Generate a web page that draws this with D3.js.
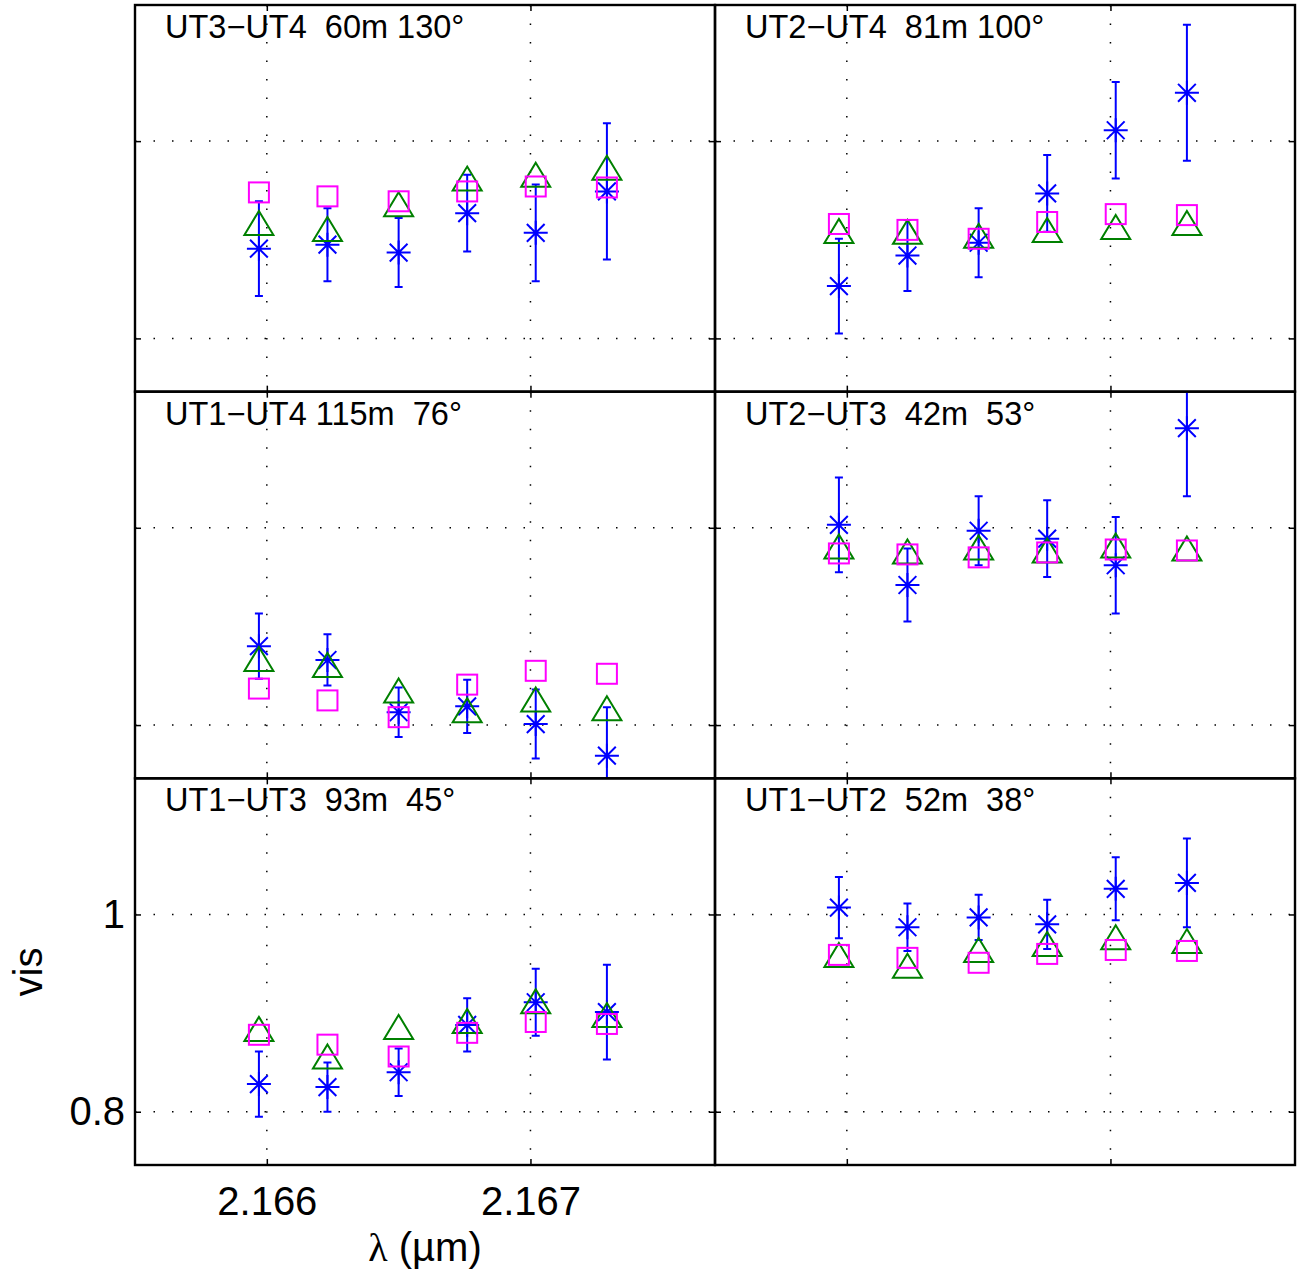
<!DOCTYPE html>
<html>
<head>
<meta charset="utf-8">
<script src="https://cdn.jsdelivr.net/npm/d3@7"></script>
<style>
  body { margin: 0; background: #fff; }
  text { font-family: "Liberation Sans", Arial, Helvetica, sans-serif; }
</style>
</head>
<body>
<svg id="chart" width="1297" height="1279"></svg>
<script>
// ---------------- data ----------------
const wavelengths = [2.16597, 2.16623, 2.16650, 2.16676, 2.16702, 2.16729]; // µm
const panelLabels = [
  "UT3\u2212UT4  60m 130\u00b0",
  "UT2\u2212UT4  81m 100\u00b0",
  "UT1\u2212UT4 115m  76\u00b0",
  "UT2\u2212UT3  42m  53\u00b0",
  "UT1\u2212UT3  93m  45\u00b0",
  "UT1\u2212UT2  52m  38\u00b0"
];
// magenta squares
const squareVis = [
  [0.948, 0.944, 0.939, 0.949, 0.954, 0.953],
  [0.916, 0.910, 0.901, 0.918, 0.926, 0.925],
  [0.837, 0.825, 0.808, 0.841, 0.855, 0.852],
  [0.974, 0.973, 0.970, 0.975, 0.978, 0.977],
  [0.878, 0.868, 0.856, 0.880, 0.891, 0.889],
  [0.959, 0.956, 0.951, 0.960, 0.964, 0.963]
];
// green triangles
const triangleVis = [
  [0.917, 0.911, 0.936, 0.962, 0.966, 0.973],
  [0.909, 0.908, 0.904, 0.910, 0.913, 0.917],
  [0.867, 0.861, 0.835, 0.815, 0.826, 0.817],
  [0.981, 0.976, 0.980, 0.977, 0.982, 0.979],
  [0.884, 0.856, 0.886, 0.892, 0.912, 0.898],
  [0.959, 0.948, 0.964, 0.970, 0.977, 0.973]
];
// blue asterisks (measured) with error bars
const starVis = [
  [0.891, 0.895, 0.887, 0.927, 0.907, 0.949],
  [0.853, 0.884, 0.897, 0.947, 1.011, 1.049],
  [0.880, 0.866, 0.813, 0.819, 0.801, 0.769],
  [1.003, 0.942, 0.997, 0.989, 0.962, 1.101],
  [0.828, 0.825, 0.840, 0.888, 0.911, 0.901],
  [1.007, 0.987, 0.997, 0.990, 1.026, 1.032]
];
const starErr = [
  [0.048, 0.037, 0.035, 0.039, 0.049, 0.069],
  [0.048, 0.036, 0.035, 0.039, 0.049, 0.069],
  [0.033, 0.026, 0.025, 0.027, 0.035, 0.049],
  [0.048, 0.037, 0.035, 0.039, 0.049, 0.069],
  [0.033, 0.025, 0.024, 0.027, 0.034, 0.048],
  [0.031, 0.024, 0.023, 0.025, 0.032, 0.045]
];
const xTickValues = [2.166, 2.167];
const xTickLabels = ["2.166", "2.167"];
const yTickValues = [0.8, 1.0];
const yTickLabels = ["0.8", "1"];
const xDomain = [2.1655, 2.1677];
const yDomain = [0.746, 1.138];

// ---------------- layout ----------------
const svg = d3.select("#chart");
svg.append("rect").attr("width", 1297).attr("height", 1279).attr("fill", "#fff");

const panelLeft = 135, panelTop = 5, panelW = 580, panelH = (1165 - 5) / 3;
const x = d3.scaleLinear().domain(xDomain).range([0, panelW]);
const y = d3.scaleLinear().domain(yDomain).range([panelH, 0]);

const BLUE = "#0000ff", GREEN = "#008000", MAGENTA = "#ff00ff";
const r = 12, d = r * 0.74;
const starPath = `M${-r},0L${r},0M0,${-r}L0,${r}M${-d},${-d}L${d},${d}M${-d},${d}L${d},${-d}`;
const triPath = "M0,-12L14.5,12L-14.5,12Z";

panelLabels.forEach((label, i) => {
  const col = i % 2, row = Math.floor(i / 2);
  const g = svg.append("g")
    .attr("transform", `translate(${panelLeft + col * panelW},${panelTop + row * panelH})`);

  const clipId = "clip" + i;
  g.append("clipPath").attr("id", clipId)
    .append("rect").attr("width", panelW).attr("height", panelH);

  // grid (dotted)
  const grid = g.append("g").attr("stroke", "#000").attr("stroke-width", 1.5)
    .attr("stroke-dasharray", "1.5 17");
  grid.selectAll("line.gx").data(xTickValues).join("line").attr("class", "gx")
    .attr("x1", v => x(v)).attr("x2", v => x(v))
    .attr("y1", 0).attr("y2", panelH);
  grid.selectAll("line.gy").data(yTickValues).join("line").attr("class", "gy")
    .attr("x1", 0).attr("x2", panelW)
    .attr("y1", v => y(v)).attr("y2", v => y(v));

  const plot = g.append("g").attr("clip-path", `url(#${clipId})`);

  const pts = wavelengths.map((w, k) => ({
    w, sq: squareVis[i][k], tri: triangleVis[i][k], st: starVis[i][k], e: starErr[i][k]
  }));

  // error bars
  const eb = plot.append("g").attr("stroke", BLUE).attr("stroke-width", 2).attr("fill", "none");
  eb.selectAll("path").data(pts).join("path")
    .attr("d", p => {
      const cx = x(p.w), y1 = y(p.st + p.e), y2 = y(p.st - p.e);
      return `M${cx},${y1}L${cx},${y2}M${cx - 4},${y1}L${cx + 4},${y1}M${cx - 4},${y2}L${cx + 4},${y2}`;
    });
  // asterisks
  plot.append("g").selectAll("path").data(pts).join("path")
    .attr("transform", p => `translate(${x(p.w)},${y(p.st)})`)
    .attr("d", starPath).attr("stroke", BLUE).attr("stroke-width", 2).attr("fill", "none");
  // triangles
  plot.append("g").selectAll("path").data(pts).join("path")
    .attr("transform", p => `translate(${x(p.w)},${y(p.tri)})`)
    .attr("d", triPath).attr("stroke", GREEN).attr("stroke-width", 2).attr("fill", "none");
  // squares
  plot.append("g").selectAll("rect").data(pts).join("rect")
    .attr("x", p => x(p.w) - 10).attr("y", p => y(p.sq) - 10)
    .attr("width", 20).attr("height", 20)
    .attr("stroke", MAGENTA).attr("stroke-width", 2).attr("fill", "none");

  // inward ticks on all four sides
  const showLabels = (i === 4);
  const axB = g.append("g").attr("transform", `translate(0,${panelH})`)
    .call(d3.axisBottom(x).tickValues(xTickValues).tickSize(-6).tickPadding(22)
      .tickFormat((v, k) => showLabels ? xTickLabels[k] : ""));
  const axT = g.append("g")
    .call(d3.axisTop(x).tickValues(xTickValues).tickSize(-6).tickFormat(""));
  const axL = g.append("g")
    .call(d3.axisLeft(y).tickValues(yTickValues).tickSize(-6).tickPadding(10)
      .tickFormat((v, k) => showLabels ? yTickLabels[k] : ""));
  const axR = g.append("g").attr("transform", `translate(${panelW},0)`)
    .call(d3.axisRight(y).tickValues(yTickValues).tickSize(-6).tickFormat(""));
  [axB, axT, axL, axR].forEach(a => {
    a.select(".domain").remove();
    a.selectAll("line").attr("stroke", "#000").attr("stroke-width", 1.5);
    a.selectAll("text").attr("fill", "#000").style("font-size", "40px")
      .style("font-family", '"Liberation Sans", Arial, sans-serif');
  });

  // frame
  g.append("rect").attr("width", panelW).attr("height", panelH)
    .attr("fill", "none").attr("stroke", "#000").attr("stroke-width", 2.4);

  // panel label
  g.append("text").attr("x", 30).attr("y", 33)
    .style("font-size", "32.5px").style("white-space", "pre").attr("fill", "#000")
    .text(label);
});

// axis titles
svg.append("text").attr("transform", "translate(42,972) rotate(-90)")
  .attr("text-anchor", "middle").style("font-size", "40px").attr("fill", "#000").text("vis");
const xt = svg.append("text").attr("x", 425).attr("y", 1261)
  .attr("text-anchor", "middle").style("font-size", "40px").attr("fill", "#000");
xt.append("tspan").style("font-family", '"Liberation Serif", "Times New Roman", serif').text("\u03bb");
xt.append("tspan").text(" (\u00b5m)");
</script>
</body>
</html>
